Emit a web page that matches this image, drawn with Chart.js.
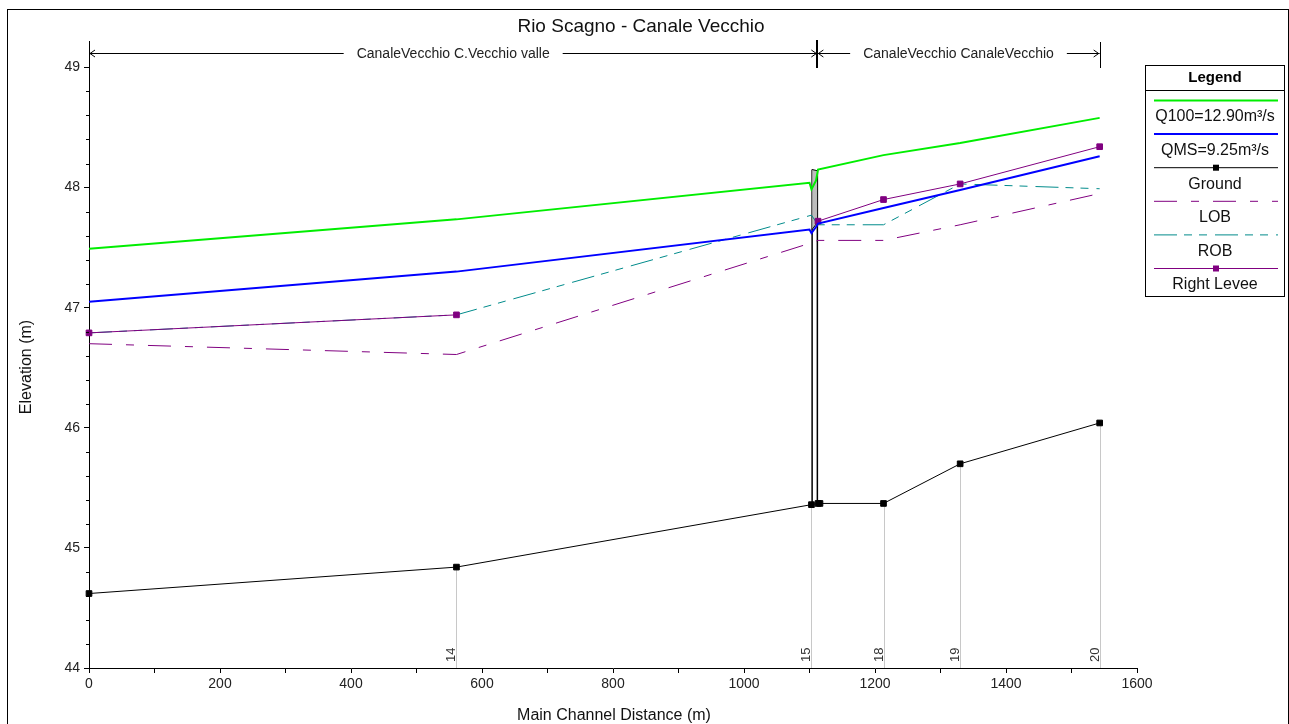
<!DOCTYPE html>
<html>
<head>
<meta charset="utf-8">
<title>Rio Scagno - Canale Vecchio</title>
<script src="https://cdn.jsdelivr.net/npm/chart.js@4.4.1/dist/chart.umd.min.js"></script>
<style>
  html, body { margin: 0; padding: 0; background: #fff; }
  canvas { display: block; }
</style>
</head>
<body>
<canvas id="profile" width="1289" height="724"></canvas>
<script>
// Water surface profiles (distance m, elevation m)
const q100X = [0, 561, 1100, 1103, 1110, 1113, 1213, 1330, 1543];
const q100Y = [47.49, 47.735, 48.04, 47.985, 48.06, 48.15, 48.27, 48.37, 48.58];
const qmsX = [0, 561, 1100, 1103, 1111, 1113, 1213, 1330, 1543];
const qmsY = [47.05, 47.30, 47.65, 47.62, 47.68, 47.70, 47.83, 47.98, 48.26];

// Channel bed
const groundX = [0, 561, 1103, 1113, 1116, 1213, 1330, 1543];
const groundY = [44.62, 44.84, 45.36, 45.37, 45.37, 45.37, 45.70, 46.04];

// Bank stations and levee, one value per cross section
const bankX = [0, 561, 1103, 1113, 1213, 1330, 1543];
const lobY = [46.70, 46.61, 47.54, 47.56, 47.56, 47.69, 47.95];
const robY = [46.79, 46.94, 47.77, 47.69, 47.69, 48.03, 47.99];
const leveeY = [46.79, 46.94, null, 47.72, 47.90, 48.03, 48.34];

// Bridge deck
const bridgeX = [1104, 1112];
const bridgeHigh = [48.15, 48.14];
const bridgeLow = [47.65, 47.71];
const bridgeFloor = [45.36, 45.37];

// River stations shown along the bottom
const sectionNames = ['14', '15', '18', '19', '20'];
const sectionX = [561, 1103, 1213, 1330, 1543];

// Reaches along the top
const reachNames = ['CanaleVecchio C.Vecchio valle', 'CanaleVecchio CanaleVecchio'];
const reachStart = [0, 1112];
const reachEnd = [1112, 1543];

const yTicks = [44, 45, 46, 47, 48, 49];
const legendOrder = ['Q100=12.90m³/s', 'QMS=9.25m³/s', 'Ground', 'LOB', 'ROB', 'Right Levee'];

const FONT = "'Liberation Sans', Arial, Helvetica, sans-serif";
const PURPLE = '#800080';
const TEAL = '#008b8b';

const pts = (xs, ys) => xs.map((v, i) => ({ x: v, y: ys[i] }));

const datasets = [
  { label: 'Q100=12.90m³/s', data: pts(q100X, q100Y), borderColor: '#00ee00', borderWidth: 2, pointRadius: 0, order: 1 },
  { label: 'QMS=9.25m³/s', data: pts(qmsX, qmsY), borderColor: '#0000ff', borderWidth: 2, pointRadius: 0, order: 2 },
  { label: 'Right Levee', data: pts(bankX, leveeY), borderColor: PURPLE, borderWidth: 1, pointStyle: 'rect', pointRadius: 4,
    pointBackgroundColor: PURPLE, pointBorderColor: PURPLE, spanGaps: false, clip: false, order: 3 },
  { label: 'ROB', data: pts(bankX, robY), borderColor: TEAL, borderWidth: 1, borderDash: [23, 7, 8, 7, 8, 8], pointRadius: 0, order: 4 },
  { label: 'LOB', data: pts(bankX, lobY), borderColor: PURPLE, borderWidth: 1, borderDash: [23, 14, 8, 14], pointRadius: 0, order: 5 },
  { label: 'Ground', data: pts(groundX, groundY), borderColor: '#000', borderWidth: 1, pointStyle: 'rect', pointRadius: 4,
    pointBackgroundColor: '#000', pointBorderColor: '#000', clip: false, order: 6 },
  // deck: high chord, then low chord filled up to it
  { label: 'deckHigh', data: pts(bridgeX, bridgeHigh), borderColor: '#000', borderWidth: 1, pointRadius: 0, order: 7 },
  { label: 'deckLow', data: pts(bridgeX, bridgeLow), borderColor: '#000', borderWidth: 1, pointRadius: 0,
    fill: '-1', backgroundColor: '#bdbdbd', order: 8 },
  { label: 'pierUp', data: pts([bridgeX[0], bridgeX[0]], [bridgeFloor[0], bridgeHigh[0]]), borderColor: '#000', borderWidth: 1.5, pointRadius: 0, order: 9 },
  { label: 'pierDown', data: pts([bridgeX[1], bridgeX[1]], [bridgeFloor[1], bridgeHigh[1]]), borderColor: '#000', borderWidth: 1.5, pointRadius: 0, order: 10 }
];

function groundAt(v) {
  const i = groundX.indexOf(v);
  return i >= 0 ? groundY[i] : null;
}

const decorations = {
  id: 'decorations',
  beforeDatasetsDraw(chart) {
    const { ctx, scales: { x, y }, chartArea } = chart;
    ctx.save();
    // station lines from bed down to the axis
    ctx.strokeStyle = '#c8c8c8';
    ctx.lineWidth = 1;
    sectionX.forEach((sx, i) => {
      const px = Math.round(x.getPixelForValue(sx)) + 0.5;
      ctx.beginPath();
      ctx.moveTo(px, y.getPixelForValue(groundAt(sx)));
      ctx.lineTo(px, chartArea.bottom);
      ctx.stroke();
      ctx.save();
      ctx.translate(px - 5, chartArea.bottom - 6);
      ctx.rotate(-Math.PI / 2);
      ctx.fillStyle = '#333';
      ctx.font = '13px ' + FONT;
      ctx.textAlign = 'left';
      ctx.textBaseline = 'middle';
      ctx.fillText(sectionNames[i], 0, 0);
      ctx.restore();
    });
    ctx.restore();
  },
  afterDraw(chart) {
    const { ctx, scales: { x, y }, chartArea } = chart;
    ctx.save();

    // outer frame
    ctx.strokeStyle = '#000';
    ctx.lineWidth = 1;
    ctx.strokeRect(7.5, 9.5, 1281, 730);

    // title
    ctx.fillStyle = '#111';
    ctx.font = '19px ' + FONT;
    ctx.textAlign = 'center';
    ctx.textBaseline = 'alphabetic';
    ctx.fillText('Rio Scagno - Canale Vecchio', 641, 32);

    // axis titles
    ctx.font = '16px ' + FONT;
    ctx.fillText('Main Channel Distance (m)', 614, 720);
    ctx.save();
    ctx.translate(31, 367);
    ctx.rotate(-Math.PI / 2);
    ctx.fillText('Elevation (m)', 0, 0);
    ctx.restore();

    // minor ticks on the elevation axis
    ctx.beginPath();
    for (let v = 44.2; v < 49.01; v += 0.2) {
      if (Math.abs(v - Math.round(v)) < 0.01) continue;
      const py = Math.round(y.getPixelForValue(v)) + 0.5;
      ctx.moveTo(chartArea.left - 3, py);
      ctx.lineTo(chartArea.left, py);
    }
    ctx.stroke();

    // reach markers along the top
    const ay = 53.5;
    ctx.font = '14px ' + FONT;
    ctx.textBaseline = 'middle';
    ctx.strokeStyle = '#000';
    reachNames.forEach((name, i) => {
      const x1 = x.getPixelForValue(reachStart[i]);
      const x2 = x.getPixelForValue(reachEnd[i]);
      const cx = (x1 + x2) / 2;
      const w = ctx.measureText(name).width;
      ctx.lineWidth = 1;
      ctx.beginPath();
      ctx.moveTo(x1, ay); ctx.lineTo(cx - w / 2 - 13, ay);
      ctx.moveTo(cx + w / 2 + 13, ay); ctx.lineTo(x2, ay);
      // arrow heads
      ctx.moveTo(x1 + 6, ay - 3.5); ctx.lineTo(x1 + 1, ay); ctx.lineTo(x1 + 6, ay + 3.5);
      ctx.moveTo(x2 - 6, ay - 3.5); ctx.lineTo(x2 - 1, ay); ctx.lineTo(x2 - 6, ay + 3.5);
      ctx.stroke();
      ctx.fillStyle = '#222';
      ctx.fillText(name, cx, ay + 1);
    });
    // reach boundaries
    const bx0 = Math.round(x.getPixelForValue(reachStart[0])) + 0.5;
    const bx1 = Math.round(x.getPixelForValue(reachEnd[0]));
    const bx2 = Math.round(x.getPixelForValue(reachEnd[1])) + 0.5;
    ctx.lineWidth = 1;
    ctx.beginPath();
    ctx.moveTo(bx0, 42); ctx.lineTo(bx0, 62);
    ctx.moveTo(bx2, 42); ctx.lineTo(bx2, 68);
    ctx.stroke();
    ctx.lineWidth = 2;
    ctx.beginPath();
    ctx.moveTo(bx1, 40); ctx.lineTo(bx1, 68);
    ctx.stroke();

    // legend box
    const lx = 1145.5, ly = 65.5, lw = 139, lh = 231;
    ctx.lineWidth = 1;
    ctx.fillStyle = '#fff';
    ctx.fillRect(lx, ly, lw, lh);
    ctx.strokeStyle = '#000';
    ctx.strokeRect(lx, ly, lw, lh);
    ctx.beginPath();
    ctx.moveTo(lx, 90.5); ctx.lineTo(lx + lw, 90.5);
    ctx.stroke();
    ctx.fillStyle = '#000';
    ctx.font = 'bold 15px ' + FONT;
    ctx.textAlign = 'center';
    ctx.fillText('Legend', lx + lw / 2, 78);

    ctx.font = '16px ' + FONT;
    legendOrder.forEach((label, i) => {
      const ds = chart.data.datasets.find(d => d.label === label);
      const yLine = 100.5 + i * 33.6;
      const yText = 117 + i * 33.6;
      ctx.save();
      ctx.strokeStyle = ds.borderColor;
      ctx.lineWidth = ds.borderWidth;
      ctx.setLineDash(ds.borderDash || []);
      ctx.beginPath();
      ctx.moveTo(1154, yLine); ctx.lineTo(1278, yLine);
      ctx.stroke();
      ctx.restore();
      if (ds.pointRadius) {
        ctx.fillStyle = ds.pointBackgroundColor;
        ctx.fillRect(1213, yLine - 3, 6, 6);
      }
      ctx.fillStyle = '#111';
      ctx.fillText(label, lx + lw / 2, yText);
    });

    ctx.restore();
  }
};

new Chart(document.getElementById('profile'), {
  type: 'line',
  data: { datasets },
  options: {
    responsive: false,
    devicePixelRatio: 1,
    animation: false,
    events: [],
    layout: { padding: { top: 41, right: 152, left: 0, bottom: 0 } },
    plugins: {
      legend: { display: false },
      title: { display: false },
      tooltip: { enabled: false },
      filler: { propagate: false }
    },
    elements: { line: { tension: 0 } },
    scales: {
      x: {
        type: 'linear',
        min: 0,
        max: 1600,
        afterFit: s => { s.height = 56; },
        border: { display: true, color: '#000', width: 1 },
        grid: { drawOnChartArea: false, drawTicks: true, tickLength: 5, color: '#000' },
        ticks: {
          stepSize: 100,
          autoSkip: false,
          maxRotation: 0,
          padding: 3,
          color: '#222',
          font: { family: FONT, size: 14 },
          callback: v => (v % 200 === 0 ? String(v) : '')
        }
      },
      y: {
        type: 'linear',
        min: 44,
        max: 49.22,
        afterFit: s => { s.width = 89; },
        afterBuildTicks: s => { s.ticks = yTicks.map(v => ({ value: v })); },
        border: { display: true, color: '#000', width: 1 },
        grid: { drawOnChartArea: false, drawTicks: true, tickLength: 5, color: '#000' },
        ticks: {
          padding: 4,
          color: '#222',
          font: { family: FONT, size: 14 },
          callback: v => String(v)
        }
      }
    }
  },
  plugins: [decorations]
});
</script>
</body>
</html>
